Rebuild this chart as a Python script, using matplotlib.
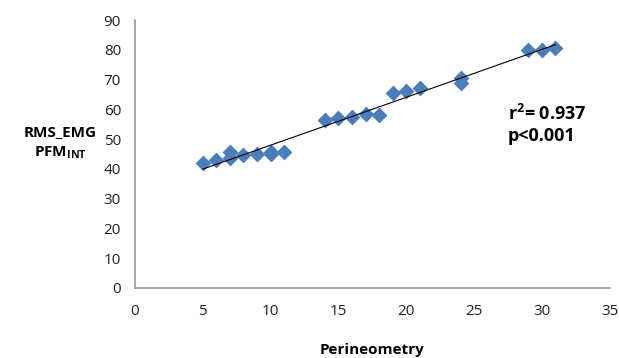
import matplotlib.pyplot as plt
import numpy as np

# Perineometry vs RMS_EMG PFM_INT
perineometry = [5, 6, 7, 7, 8, 9, 10, 10, 11, 14, 15, 16, 17, 18, 19, 20, 21, 24, 24, 29, 30, 31]
rms_emg = [42, 43, 43.5, 45.5, 44.5, 45, 45, 45.5, 45.5, 56.5, 57, 57.5, 58.5, 58,
           65.5, 66, 67, 69, 70.5, 80, 80, 80.5]

x_ticks = [0, 5, 10, 15, 20, 25, 30, 35]
y_ticks = [0, 10, 20, 30, 40, 50, 60, 70, 80, 90]

plt.rcParams['font.family'] = ['Open Sans', 'DejaVu Sans']

fig = plt.figure(figsize=(6.19, 3.58), dpi=100)
ax = fig.add_axes([0.218, 0.196, 0.767, 0.748])

ax.scatter(perineometry, rms_emg, marker='D', s=65, color='#4a7ebb', zorder=3, linewidths=0)

# linear trend line
coef = np.polyfit(perineometry, rms_emg, 1)
xs = np.array([min(perineometry), max(perineometry)])
ax.plot(xs, np.polyval(coef, xs), color='black', lw=0.8, zorder=4)

ax.set_xlim(0, 35)
ax.set_ylim(0, 90)
ax.set_xticks(x_ticks)
ax.set_yticks(y_ticks)
ax.tick_params(length=0, labelsize=11, colors='#222222', pad=12)
ax.tick_params(axis='y', pad=10)
for s in ['top', 'right']:
    ax.spines[s].set_visible(False)
for s in ['left', 'bottom']:
    ax.spines[s].set_color('#999999')
    ax.spines[s].set_linewidth(1.2)

ax.set_xlabel('Perineometry', fontsize=11, fontweight='bold', labelpad=17)
fig.text(0.097, 0.631, 'RMS_EMG', ha='center', va='center', fontsize=11, fontweight='bold')
fig.text(0.097, 0.573, r'PFM$_{\mathregular{INT}}$', ha='center', va='center', fontsize=11, fontweight='bold')

ax.text(0.785, 0.625, r'r$^{\mathregular{2}}$= 0.937', transform=ax.transAxes, fontsize=13, fontweight='bold')
ax.text(0.785, 0.55, 'p<0.001', transform=ax.transAxes, fontsize=13, fontweight='bold')

fig.savefig('out.png', dpi=100)
